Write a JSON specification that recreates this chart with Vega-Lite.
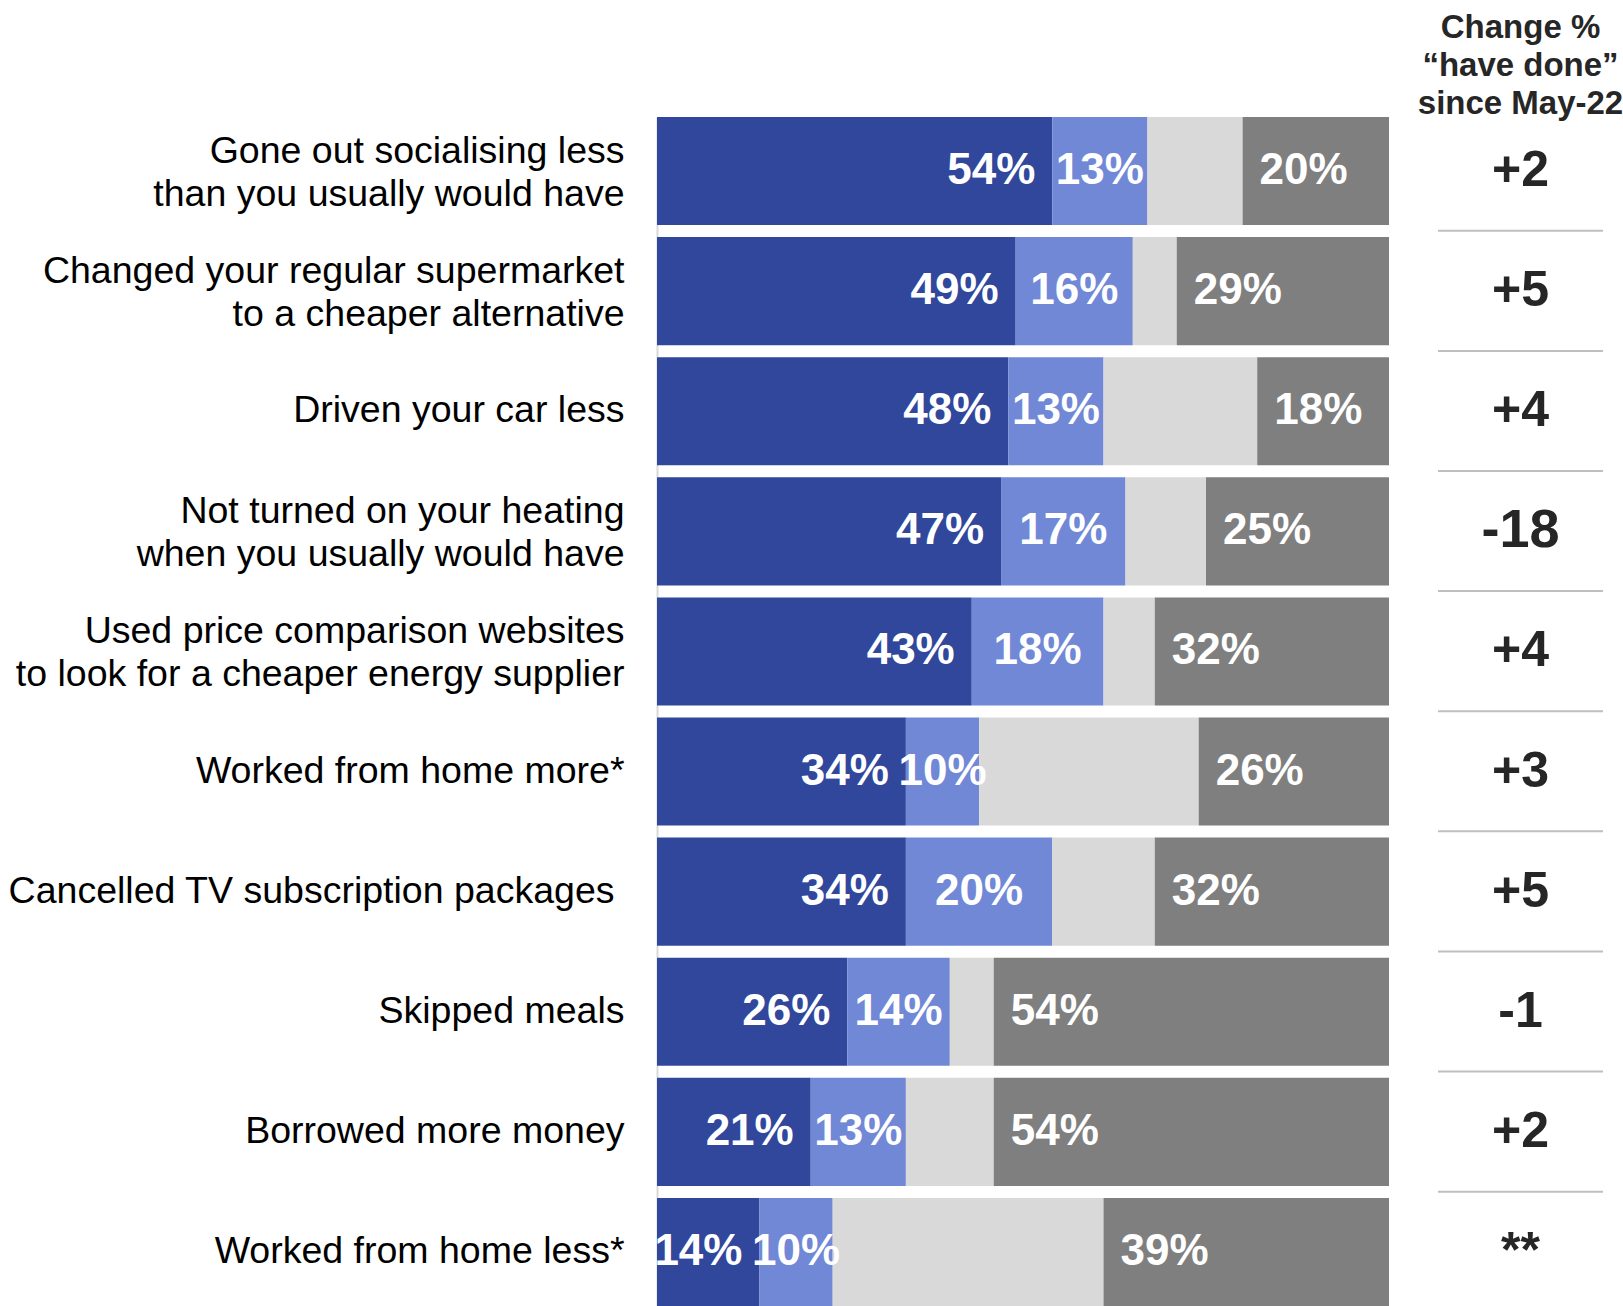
{
  "$schema": "https://vega.github.io/schema/vega-lite/v6.json",
  "autosize": {"type": "pad"},
  "padding": {"left": 7, "top": 12, "right": 0, "bottom": 0},
  "background": "white",
  "config": {"view": {"stroke": null}, "font": "Liberation Sans"},
  "bounds": "flush",
  "spacing": 49,
  "resolve": {"scale": {"y": "shared"}},
  "datasets": {
    "bars": [
      {"item": "Gone out socialising less|than you usually would have", "answer": "Have done", "share": 0.54},
      {"item": "Gone out socialising less|than you usually would have", "answer": "Likely to do", "share": 0.13},
      {"item": "Gone out socialising less|than you usually would have", "answer": "Not applicable", "share": 0.13},
      {"item": "Gone out socialising less|than you usually would have", "answer": "Not likely to do", "share": 0.20},
      {"item": "Changed your regular supermarket|to a cheaper alternative", "answer": "Have done", "share": 0.49},
      {"item": "Changed your regular supermarket|to a cheaper alternative", "answer": "Likely to do", "share": 0.16},
      {"item": "Changed your regular supermarket|to a cheaper alternative", "answer": "Not applicable", "share": 0.06},
      {"item": "Changed your regular supermarket|to a cheaper alternative", "answer": "Not likely to do", "share": 0.29},
      {"item": "Driven your car less", "answer": "Have done", "share": 0.48},
      {"item": "Driven your car less", "answer": "Likely to do", "share": 0.13},
      {"item": "Driven your car less", "answer": "Not applicable", "share": 0.21},
      {"item": "Driven your car less", "answer": "Not likely to do", "share": 0.18},
      {"item": "Not turned on your heating|when you usually would have", "answer": "Have done", "share": 0.47},
      {"item": "Not turned on your heating|when you usually would have", "answer": "Likely to do", "share": 0.17},
      {"item": "Not turned on your heating|when you usually would have", "answer": "Not applicable", "share": 0.11},
      {"item": "Not turned on your heating|when you usually would have", "answer": "Not likely to do", "share": 0.25},
      {"item": "Used price comparison websites|to look for a cheaper energy supplier", "answer": "Have done", "share": 0.43},
      {"item": "Used price comparison websites|to look for a cheaper energy supplier", "answer": "Likely to do", "share": 0.18},
      {"item": "Used price comparison websites|to look for a cheaper energy supplier", "answer": "Not applicable", "share": 0.07},
      {"item": "Used price comparison websites|to look for a cheaper energy supplier", "answer": "Not likely to do", "share": 0.32},
      {"item": "Worked from home more*", "answer": "Have done", "share": 0.34},
      {"item": "Worked from home more*", "answer": "Likely to do", "share": 0.10},
      {"item": "Worked from home more*", "answer": "Not applicable", "share": 0.30},
      {"item": "Worked from home more*", "answer": "Not likely to do", "share": 0.26},
      {"item": "Cancelled TV subscription packages", "answer": "Have done", "share": 0.34},
      {"item": "Cancelled TV subscription packages", "answer": "Likely to do", "share": 0.20},
      {"item": "Cancelled TV subscription packages", "answer": "Not applicable", "share": 0.14},
      {"item": "Cancelled TV subscription packages", "answer": "Not likely to do", "share": 0.32},
      {"item": "Skipped meals", "answer": "Have done", "share": 0.26},
      {"item": "Skipped meals", "answer": "Likely to do", "share": 0.14},
      {"item": "Skipped meals", "answer": "Not applicable", "share": 0.06},
      {"item": "Skipped meals", "answer": "Not likely to do", "share": 0.54},
      {"item": "Borrowed more money", "answer": "Have done", "share": 0.21},
      {"item": "Borrowed more money", "answer": "Likely to do", "share": 0.13},
      {"item": "Borrowed more money", "answer": "Not applicable", "share": 0.12},
      {"item": "Borrowed more money", "answer": "Not likely to do", "share": 0.54},
      {"item": "Worked from home less*", "answer": "Have done", "share": 0.14},
      {"item": "Worked from home less*", "answer": "Likely to do", "share": 0.10},
      {"item": "Worked from home less*", "answer": "Not applicable", "share": 0.37},
      {"item": "Worked from home less*", "answer": "Not likely to do", "share": 0.39}
    ],
    "change": [
      {"item": "Gone out socialising less|than you usually would have", "change": "+2"},
      {"item": "Changed your regular supermarket|to a cheaper alternative", "change": "+5"},
      {"item": "Driven your car less", "change": "+4"},
      {"item": "Not turned on your heating|when you usually would have", "change": "-18"},
      {"item": "Used price comparison websites|to look for a cheaper energy supplier", "change": "+4"},
      {"item": "Worked from home more*", "change": "+3"},
      {"item": "Cancelled TV subscription packages", "change": "+5"},
      {"item": "Skipped meals", "change": "-1"},
      {"item": "Borrowed more money", "change": "+2"},
      {"item": "Worked from home less*", "change": "**"}
    ]
  },
  "hconcat": [
    {
      "width": 732,
      "height": 1189,
      "data": {"name": "bars"},
      "transform": [
        {"stack": "share", "groupby": ["item"], "sort": [{"field": "answer", "order": "ascending"}], "as": ["x0", "x1"]},
        {"calculate": "(datum.x0 + datum.x1) / 2", "as": "xmid"}
      ],
      "encoding": {
        "y": {
          "field": "item", "type": "nominal",
          "sort": [
            "Gone out socialising less|than you usually would have",
            "Changed your regular supermarket|to a cheaper alternative",
            "Driven your car less",
            "Not turned on your heating|when you usually would have",
            "Used price comparison websites|to look for a cheaper energy supplier",
            "Worked from home more*",
            "Cancelled TV subscription packages",
            "Skipped meals",
            "Borrowed more money",
            "Worked from home less*"
          ],
          "scale": {"paddingInner": 0.1, "paddingOuter": 0},
          "axis": {
            "title": null, "ticks": false, "domain": true, "domainColor": "#D9D9D9", "domainWidth": 2,
            "labelFontSize": 37.5, "labelColor": "#000000", "labelLimit": 700,
            "labelPadding": {"condition": {"test": "datum.value === 'Cancelled TV subscription packages'", "value": 43}, "value": 33},
            "labelOffset": {"condition": {"test": "indexof(datum.value, '|') >= 0", "value": -19}, "value": 0},
            "labelExpr": "split(datum.label, '|')", "labelLineHeight": 42.5,
            "labelAlign": "right", "labelBaseline": "middle"
          }
        }
      },
      "layer": [
        {
          "mark": {"type": "bar"},
          "encoding": {
            "x": {"field": "x0", "type": "quantitative", "scale": {"domain": [0, 1], "nice": false}, "axis": null},
            "x2": {"field": "x1"},
            "color": {
              "field": "answer", "type": "nominal",
              "scale": {"domain": ["Have done", "Likely to do", "Not applicable", "Not likely to do"], "range": ["#30479C", "#7088D6", "#D9D9D9", "#7F7F7F"]},
              "legend": null
            }
          }
        },
        {
          "transform": [{"filter": "datum.answer === 'Have done'"}],
          "mark": {"type": "text", "align": "right", "baseline": "middle", "dx": -17, "fontSize": 44, "fontWeight": "bold", "color": "#FFFFFF"},
          "encoding": {
            "x": {"field": "x1", "type": "quantitative"},
            "text": {"field": "share", "type": "quantitative", "format": ".0%"}
          }
        },
        {
          "transform": [{"filter": "datum.answer === 'Likely to do'"}],
          "mark": {"type": "text", "align": "center", "baseline": "middle", "fontSize": 44, "fontWeight": "bold", "color": "#FFFFFF"},
          "encoding": {
            "x": {"field": "xmid", "type": "quantitative"},
            "text": {"field": "share", "type": "quantitative", "format": ".0%"}
          }
        },
        {
          "transform": [{"filter": "datum.answer === 'Not likely to do'"}],
          "mark": {"type": "text", "align": "left", "baseline": "middle", "dx": 17, "fontSize": 44, "fontWeight": "bold", "color": "#FFFFFF"},
          "encoding": {
            "x": {"field": "x0", "type": "quantitative"},
            "text": {"field": "share", "type": "quantitative", "format": ".0%"}
          }
        }
      ]
    },
    {
      "width": 165,
      "height": 1189,
      "data": {"name": "change"},
      "title": {
        "text": ["Change %", "\u201chave done\u201d", "since May-22"],
        "fontSize": 33, "fontWeight": "bold", "color": "#262626",
        "lineHeight": 38, "anchor": "middle", "baseline": "alphabetic", "offset": -30
      },
      "encoding": {
        "y": {
          "field": "item", "type": "nominal",
          "sort": [
            "Gone out socialising less|than you usually would have",
            "Changed your regular supermarket|to a cheaper alternative",
            "Driven your car less",
            "Not turned on your heating|when you usually would have",
            "Used price comparison websites|to look for a cheaper energy supplier",
            "Worked from home more*",
            "Cancelled TV subscription packages",
            "Skipped meals",
            "Borrowed more money",
            "Worked from home less*"
          ],
          "axis": null
        }
      },
      "layer": [
        {
          "transform": [{"filter": "datum.item !== 'Worked from home less*'"}],
          "mark": {"type": "rule", "color": "#BFBFBF", "strokeWidth": 2},
          "encoding": {
            "y": {
              "field": "item", "type": "nominal", "bandPosition": 1.053,
              "sort": [
                "Gone out socialising less|than you usually would have",
                "Changed your regular supermarket|to a cheaper alternative",
                "Driven your car less",
                "Not turned on your heating|when you usually would have",
                "Used price comparison websites|to look for a cheaper energy supplier",
                "Worked from home more*",
                "Cancelled TV subscription packages",
                "Skipped meals",
                "Borrowed more money",
                "Worked from home less*"
              ],
              "axis": null
            }
          }
        },
        {
          "mark": {"type": "text", "align": "center", "baseline": "middle", "fontWeight": "bold", "color": "#262626"},
          "encoding": {
            "text": {"field": "change", "type": "nominal"},
            "size": {"condition": {"test": "datum.change === '-18'", "value": 54}, "value": 50}
          }
        }
      ]
    }
  ]
}
